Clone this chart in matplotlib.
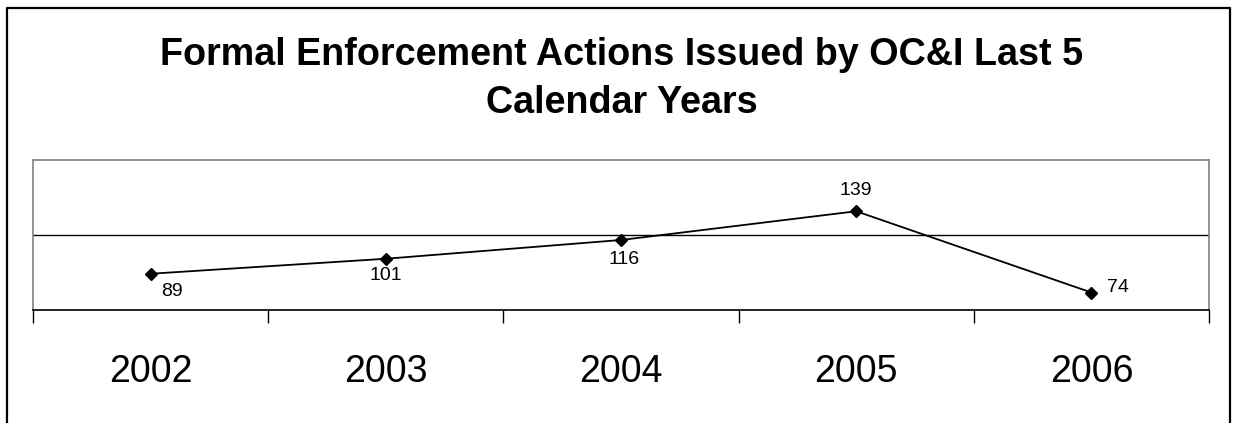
import matplotlib
matplotlib.use("Agg")
import matplotlib.pyplot as plt
from matplotlib.lines import Line2D

plt.rcParams["font.family"] = ["Liberation Sans", "DejaVu Sans"]

years = ["2002", "2003", "2004", "2005", "2006"]
actions = [89, 101, 116, 139, 74]
# label offsets in pixels (dx, dy) relative to each point
label_offsets = [(21, -18), (0, -17), (3, -19), (0, 21), (27, 5)]

W, H = 1235, 423
fig = plt.figure(figsize=(W / 100, H / 100), dpi=100)
ax = fig.add_axes([33 / W, 1 - 310 / H, (1209 - 33) / W, (310 - 160) / H])

x = list(range(len(years)))
ax.plot(x, actions, color="black", lw=1.3, marker="D", ms=6.5, mfc="black", mec="black")

for xi, v, (dx, dy) in zip(x, actions, label_offsets):
    ax.annotate(str(v), (xi, v), xytext=(dx, dy), textcoords="offset pixels",
                ha="center", va="center", fontsize=14)

ax.set_xlim(-0.5, len(years) - 0.5)
ax.set_ylim(60, 180)

# gridline at 120, no y labels
ax.set_yticks([120])
ax.yaxis.grid(True, color="black", lw=1)
ax.tick_params(axis="y", length=0, labelleft=False)

# category ticks between categories, labels in centers
ax.set_xticks(x)
ax.set_xticklabels(years, fontsize=27)
ax.set_xticks([i - 0.5 for i in range(len(years) + 1)], minor=True)
ax.tick_params(axis="x", which="major", length=0, pad=32)
ax.tick_params(axis="x", which="minor", length=9, width=1, color="black", direction="out")

for side in ["top", "left", "right"]:
    ax.spines[side].set_color("#808080")
    ax.spines[side].set_linewidth(1.2)
ax.spines["bottom"].set_color("black")
ax.spines["bottom"].set_linewidth(1.2)

fig.text(622 / W, 1 - 65 / H, "Formal Enforcement Actions Issued by OC&I Last 5",
         ha="center", va="baseline", fontsize=27.2, fontweight="bold")
fig.text(622 / W, 1 - 113 / H, "Calendar Years",
         ha="center", va="baseline", fontsize=27.2, fontweight="bold")

# outer chart border (open at bottom)
bx0, bx1, by0 = 7 / W, 1230 / W, 1 - 8 / H
fig.add_artist(Line2D([bx0, bx0, bx1, bx1], [0, by0, by0, 0], color="black", lw=1.6,
                      transform=fig.transFigure))

fig.savefig("out.png", dpi=100)
